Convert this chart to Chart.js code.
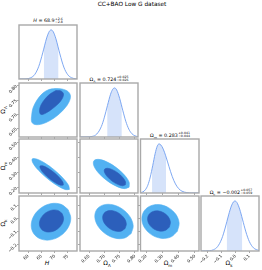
<!DOCTYPE html>
<html><head><meta charset="utf-8">
<script src="https://cdn.jsdelivr.net/npm/chart.js@4/dist/chart.umd.min.js"></script>
<style>
html,body{margin:0;padding:0;background:#fff;}
#wrap{position:relative;width:262px;height:270px;overflow:hidden;font-family:"DejaVu Sans",sans-serif;color:#000;}
canvas{position:absolute;left:0;top:0;}
.t{position:absolute;white-space:nowrap;transform:translate(-50%,-50%);line-height:1;}
.ss{display:inline-flex;flex-direction:column;font-size:3.2px;line-height:3.3px;vertical-align:middle;margin-left:0.4px;}
.pt{font-size:4.8px;}
.ax{font-size:6px;}
.ttl{font-size:5.8px;}
.rot{transform:translate(-50%,-50%) rotate(-90deg);}
</style></head><body><div id="wrap">
<div class="t ttl" style="left:132px;top:5px;">CC+BAO Low G dataset</div>
<div class="t pt" style="left:48px;top:21px;"><i>H</i> = 68.9<span class="ss"><span>+2.6</span><span>−2.8</span></span></div>
<div class="t pt" style="left:109px;top:80px;">Ω<sub style="font-size:3.4px">Λ</sub> = 0.724<span class="ss"><span>+0.025</span><span>−0.026</span></span></div>
<div class="t pt" style="left:170px;top:135.5px;">Ω<sub style="font-size:3.4px">m</sub> = 0.283<span class="ss"><span>+0.041</span><span>−0.044</span></span></div>
<div class="t pt" style="left:231px;top:192.5px;">Ω<sub style="font-size:3.4px">k</sub> = −0.002<span class="ss"><span>+0.057</span><span>−0.059</span></span></div>
<div class="t ax" style="left:47px;top:263px;"><i>H</i></div>
<div class="t ax" style="left:107px;top:264px;">Ω<sub style="font-size:4px">Λ</sub></div>
<div class="t ax" style="left:168px;top:264px;">Ω<sub style="font-size:4px">m</sub></div>
<div class="t ax" style="left:229px;top:264px;">Ω<sub style="font-size:4px">k</sub></div>
<div class="t ax rot" style="left:4px;top:110px;">Ω<sub style="font-size:4px">Λ</sub></div>
<div class="t ax rot" style="left:4px;top:166px;">Ω<sub style="font-size:4px">m</sub></div>
<div class="t ax rot" style="left:4px;top:223px;">Ω<sub style="font-size:4px">k</sub></div>
</div>
<script>
// ---- axis limits and ticks ----
const hRange = [56.5, 78.5];
const lRange = [0.62, 0.81];
const mRange = [0.165, 0.525];
const kRange = [-0.25, 0.17];
const hTicks = [60, 65, 70, 75];
const hTickLabels = ['60', '65', '70', '75'];
const lTicks = [0.65, 0.70, 0.75, 0.80];
const lTickLabels = ['0.65', '0.70', '0.75', '0.80'];
const mTicks = [0.2, 0.3, 0.4, 0.5];
const mTickLabels = ['0.20', '0.30', '0.40', '0.50'];
const kTicks = [-0.2, -0.1, 0.0, 0.1];
const kTickLabels = ['−0.2', '−0.1', '0.0', '0.1'];

// ---- 1D marginals ----
const hGrid = [56.5,58,59.5,61,62.5,64,65.5,67,68,68.7,69.5,70.5,72,73.5,75,76.5,78,78.5];
const hDens = [0,0.001,0.005,0.026,0.094,0.257,0.532,0.837,0.970,1,0.961,0.819,0.511,0.242,0.087,0.024,0.005,0.002];
const hShadeX = [65.9,67,68,68.7,69.5,70.5,71.5];
const hShadeY = [0.617,0.837,0.970,1,0.961,0.819,0.617];

const lGrid = [0.62,0.64,0.66,0.675,0.69,0.70,0.71,0.72,0.727,0.733,0.74,0.75,0.76,0.77,0.78,0.79,0.80,0.81];
const lDens = [0,0.001,0.012,0.061,0.214,0.404,0.643,0.869,0.970,1,0.960,0.786,0.545,0.320,0.159,0.067,0.024,0.007];
const lShadeX = [0.709,0.72,0.727,0.733,0.74,0.75,0.757];
const lShadeY = [0.619,0.869,0.970,1,0.960,0.786,0.619];

const mGrid = [0.165,0.18,0.195,0.21,0.225,0.24,0.255,0.268,0.279,0.29,0.305,0.32,0.34,0.36,0.38,0.40,0.42,0.45,0.48,0.525];
const mDens = [0.007,0.023,0.066,0.159,0.325,0.556,0.801,0.954,1,0.980,0.894,0.758,0.541,0.338,0.185,0.089,0.037,0.008,0.001,0];
const mShadeX = [0.236,0.24,0.255,0.268,0.279,0.29,0.305,0.322];
const mShadeY = [0.490,0.556,0.801,0.954,1,0.980,0.894,0.737];

const kGrid = [-0.25,-0.22,-0.19,-0.16,-0.13,-0.10,-0.075,-0.05,-0.03,-0.015,-0.004,0.01,0.03,0.05,0.075,0.10,0.13,0.17];
const kDens = [0,0.001,0.005,0.024,0.087,0.242,0.460,0.722,0.901,0.982,1,0.970,0.837,0.638,0.383,0.189,0.063,0.010];
const kShadeX = [-0.064,-0.05,-0.03,-0.015,-0.004,0.01,0.03,0.049];
const kShadeY = [0.575,0.722,0.901,0.982,1,0.970,0.837,0.649];

// ---- 2D contours (outer = 95%, inner = 68%) ----
const hlOuterH = [70.15,72.81,75.09,76.03,75.47,73.95,71.29,68.26,65.22,62.57,61.32,61.32,61.81,63.33,65.60,67.88];
const hlOuterL = [0.7906,0.7889,0.7801,0.7643,0.7431,0.7220,0.6974,0.6780,0.6657,0.6640,0.6728,0.6974,0.7220,0.7502,0.7748,0.7871];
const hlInnerH = [70.53,72.43,73.38,72.81,71.29,69.02,66.74,64.84,64.28,64.84,66.36,68.26];
const hlInnerL = [0.7836,0.7818,0.7713,0.7537,0.7361,0.7185,0.7044,0.6991,0.7115,0.7326,0.7537,0.7713];

const hmOuterH = [75.62,73.99,70.95,67.23,63.90,61.81,61.51,63.14,66.17,69.89,73.23,75.31];
const hmOuterM = [0.189,0.188,0.215,0.262,0.316,0.364,0.392,0.392,0.366,0.319,0.264,0.216];
const hmInnerH = [73.30,72.26,70.31,67.99,65.91,64.64,64.50,65.55,67.50,69.81,71.90,73.17];
const hmInnerM = [0.218,0.217,0.233,0.262,0.296,0.327,0.345,0.346,0.330,0.301,0.267,0.236];

const hkOuterH = [75.16,76.15,75.10,72.34,68.58,64.84,62.11,61.13,62.17,64.94,68.69,72.44];
const hkOuterK = [0.0658,0.0005,-0.0721,-0.1324,-0.1645,-0.1591,-0.1183,-0.0530,0.0196,0.0799,0.1120,0.1066];
const hkInnerH = [72.87,73.41,72.73,71.00,68.69,66.42,64.79,64.24,64.92,66.65,68.96,71.24];
const hkInnerK = [0.0361,-0.0029,-0.0466,-0.0834,-0.1035,-0.1015,-0.0779,-0.0389,0.0048,0.0416,0.0617,0.0597];

const lmOuterL = [0.7809,0.7653,0.7384,0.7075,0.6807,0.6654,0.6655,0.6811,0.7080,0.7389,0.7657,0.7810];
const lmOuterM = [0.2037,0.1941,0.2107,0.2490,0.2987,0.3465,0.3797,0.3892,0.3726,0.3343,0.2846,0.2368];
const lmInnerL = [0.7687,0.7593,0.7432,0.7248,0.7091,0.7002,0.7006,0.7101,0.7261,0.7445,0.7602,0.7691];
const lmInnerM = [0.2197,0.2133,0.2226,0.2450,0.2746,0.3033,0.3237,0.3300,0.3207,0.2983,0.2687,0.2400];

const lkOuterL = [0.7877,0.7661,0.7351,0.7032,0.6788,0.6685,0.6750,0.6967,0.7277,0.7596,0.7840,0.7943];
const lkOuterK = [-0.1167,-0.1513,-0.1520,-0.1186,-0.0599,0.0081,0.0673,0.1019,0.1026,0.0691,0.0105,-0.0576];
const lkInnerL = [0.7679,0.7547,0.7358,0.7161,0.7009,0.6943,0.6981,0.7113,0.7302,0.7500,0.7652,0.7717];
const lkInnerK = [-0.0779,-0.0984,-0.0981,-0.0772,-0.0411,0.0003,0.0361,0.0566,0.0563,0.0354,-0.0007,-0.0421];

const mkOuterM = [0.3920,0.3535,0.2974,0.2388,0.1935,0.1734,0.1841,0.2227,0.2788,0.3373,0.3827,0.4027];
const mkOuterK = [-0.0992,-0.1421,-0.1536,-0.1306,-0.0791,-0.0132,0.0497,0.0926,0.1042,0.0811,0.0297,-0.0363];
const mkInnerM = [0.3428,0.3196,0.2856,0.2496,0.2216,0.2088,0.2149,0.2381,0.2721,0.3081,0.3361,0.3489];
const mkInnerK = [-0.0667,-0.0921,-0.0983,-0.0837,-0.0524,-0.0127,0.0249,0.0503,0.0565,0.0419,0.0106,-0.0291];

// ---- layout ----
const W = 262, HGT = 270;
const colX = [19, 80, 140.5, 201], colW = [58, 58, 58.5, 58];
const rowY = [25, 83, 139, 196], rowH = [54, 54, 54, 55];
const OUTER = '#52b1f2', INNER = '#2c5fbb', LINE = '#6f9ef0', SHADE = '#d6e3fa';

const axes = [
  {range: hRange, ticks: hTicks, labels: hTickLabels},
  {range: lRange, ticks: lTicks, labels: lTickLabels},
  {range: mRange, ticks: mTicks, labels: mTickLabels},
  {range: kRange, ticks: kTicks, labels: kTickLabels}
];

const framePlugin = {
  id: 'frame',
  afterDraw(ch) {
    const a = ch.chartArea, ctx = ch.ctx;
    ctx.save();
    ctx.strokeStyle = '#a9a9a9';
    ctx.lineWidth = 1.4;
    ctx.strokeRect(a.left, a.top, a.right - a.left, a.bottom - a.top);
    ctx.restore();
  }
};

const pts = (xs, ys) => xs.map((x, i) => ({x: x, y: ys[i]}));
const closed = (xs, ys) => { const p = pts(xs, ys); p.push(p[0]); return p; };
const wrap = document.getElementById('wrap');
const tickFont = {size: 4.4, family: 'DejaVu Sans'};

function makePanel(r, c, datasets, yAxis) {
  const cv = document.createElement('canvas');
  cv.width = W; cv.height = HGT;
  wrap.appendChild(cv);
  const L = colX[c], T = rowY[r], PW = colW[c], PH = rowH[r];
  const xa = axes[c];
  const showX = r === 3;
  const showY = c === 0 && r > 0;
  const zeroPad = s => { s.paddingLeft = s.paddingRight = s.paddingTop = s.paddingBottom = 0; };
  const yScale = yAxis ? {
      type: 'linear', min: yAxis.range[0], max: yAxis.range[1],
      afterFit: s => { s.width = L; zeroPad(s); },
      afterBuildTicks: s => { s.ticks = yAxis.ticks.map(v => ({value: v})); },
      ticks: {display: showY, autoSkip: false, minRotation: 45, maxRotation: 45, padding: 0.5,
              font: tickFont, color: '#222', callback: (v, i) => yAxis.labels[i]},
      grid: {drawOnChartArea: false, drawTicks: true, tickLength: 2, color: '#555', lineWidth: 0.5},
      border: {display: false}
    } : {
      type: 'linear', min: 0, max: 1.1,
      afterFit: s => { s.width = L; zeroPad(s); },
      afterBuildTicks: s => { s.ticks = []; },
      ticks: {display: false},
      grid: {display: false},
      border: {display: false}
    };
  new Chart(cv, {
    type: 'scatter',
    data: {datasets: datasets},
    options: {
      responsive: false, animation: false, devicePixelRatio: 1,
      layout: {autoPadding: false, padding: {left: 0, top: T, right: W - L - PW, bottom: 0}},
      plugins: {legend: {display: false}, tooltip: {enabled: false}},
      events: [],
      scales: {
        x: {
          type: 'linear', min: xa.range[0], max: xa.range[1],
          afterFit: s => { s.height = HGT - T - PH; zeroPad(s); },
          afterBuildTicks: s => { s.ticks = xa.ticks.map(v => ({value: v})); },
          ticks: {display: showX, autoSkip: false, minRotation: 45, maxRotation: 45, padding: 0.5,
                  font: tickFont, color: '#222', callback: (v, i) => xa.labels[i]},
          grid: {drawOnChartArea: false, drawTicks: true, tickLength: 2, color: '#555', lineWidth: 0.5},
          border: {display: false}
        },
        y: yScale
      }
    },
    plugins: [framePlugin]
  });
}

// order: lower "order" value is drawn on top
function contourSets(ox, oy, ix, iy) {
  return [
    {data: closed(ox, oy), order: 2, showLine: true, fill: 'shape', backgroundColor: OUTER, borderColor: OUTER,
     borderWidth: 0.6, pointRadius: 0, tension: 0.35},
    {data: closed(ix, iy), order: 1, showLine: true, fill: 'shape', backgroundColor: INNER, borderColor: INNER,
     borderWidth: 0.6, pointRadius: 0, tension: 0.35}
  ];
}
function marginalSets(gx, gy, sx, sy) {
  return [
    {data: pts(sx, sy), order: 2, showLine: true, fill: 'origin', backgroundColor: SHADE, borderWidth: 0,
     pointRadius: 0, cubicInterpolationMode: 'monotone'},
    {data: pts(gx, gy), order: 1, showLine: true, fill: false, borderColor: LINE, borderWidth: 0.9,
     pointRadius: 0, cubicInterpolationMode: 'monotone'}
  ];
}

// diagonal
makePanel(0, 0, marginalSets(hGrid, hDens, hShadeX, hShadeY), null);
makePanel(1, 1, marginalSets(lGrid, lDens, lShadeX, lShadeY), null);
makePanel(2, 2, marginalSets(mGrid, mDens, mShadeX, mShadeY), null);
makePanel(3, 3, marginalSets(kGrid, kDens, kShadeX, kShadeY), null);
// lower triangle
makePanel(1, 0, contourSets(hlOuterH, hlOuterL, hlInnerH, hlInnerL), axes[1]);
makePanel(2, 0, contourSets(hmOuterH, hmOuterM, hmInnerH, hmInnerM), axes[2]);
makePanel(3, 0, contourSets(hkOuterH, hkOuterK, hkInnerH, hkInnerK), axes[3]);
makePanel(2, 1, contourSets(lmOuterL, lmOuterM, lmInnerL, lmInnerM), axes[2]);
makePanel(3, 1, contourSets(lkOuterL, lkOuterK, lkInnerL, lkInnerK), axes[3]);
makePanel(3, 2, contourSets(mkOuterM, mkOuterK, mkInnerM, mkInnerK), axes[3]);
</script>
</body></html>
